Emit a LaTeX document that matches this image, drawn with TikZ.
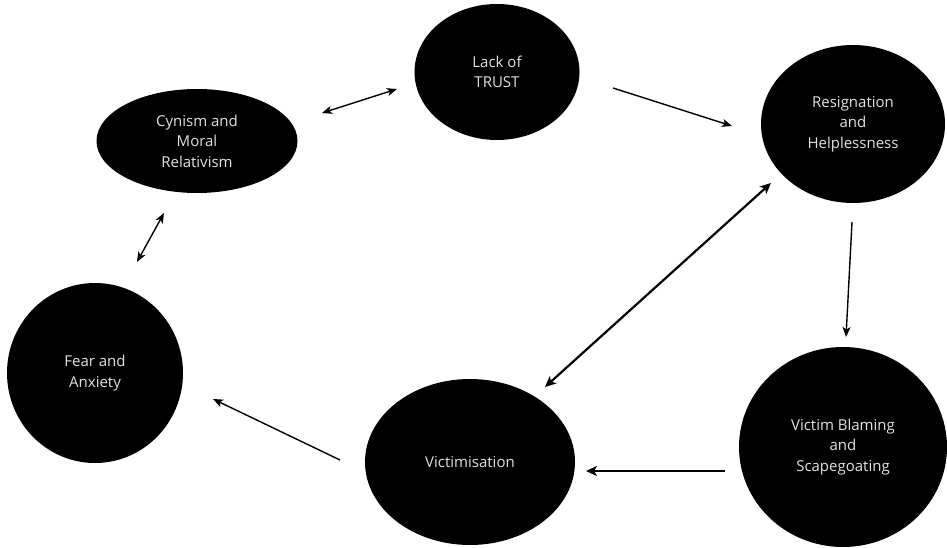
\documentclass[tikz,border=0pt]{standalone}
\usepackage{fontspec}
\setmainfont{Open Sans}
\usetikzlibrary{shapes.geometric,arrows.meta}
\definecolor{txt}{HTML}{E2E2E2}
\begin{document}
\begin{tikzpicture}[x=1pt,y=-1pt,
  blob/.style={ellipse,fill=black,draw=none,inner sep=0pt,text=txt,align=center,
    font=\fontsize{15}{20.5}\selectfont},
  thinarrow/.style={line width=1.4pt,-{Stealth[length=10pt,width=8pt,inset=2.5pt]}},
  thinboth/.style={line width=1.4pt,{Stealth[length=10pt,width=8pt,inset=2.5pt]}-{Stealth[length=10pt,width=8pt,inset=2.5pt]}},
  thickarrow/.style={line width=2.6pt,-{Stealth[length=11pt,width=10pt,inset=3pt]}},
  thickboth/.style={line width=2.2pt,{Stealth[length=11pt,width=10pt,inset=3pt]}-{Stealth[length=11pt,width=10pt,inset=3pt]}}]
\useasboundingbox (0,0) rectangle (947,548);
\node[blob,minimum width=165pt,minimum height=136pt] (trust) at (497,72) {Lack of\\TRUST};
\node[blob,minimum width=201pt,minimum height=104pt] (cyn) at (197,141) {Cynism and\\Moral\\Relativism};
\node[blob,minimum width=184pt,minimum height=158pt] (resig) at (853,124) {Resignation\\and\\Helplessness};
\node[blob,minimum width=176pt,minimum height=180pt] (fear) at (95,373) {Fear and\\Anxiety};
\node[blob,minimum width=210pt,minimum height=166pt] (vict) at (470,462) {Victimisation};
\node[blob,minimum width=208pt,minimum height=200pt] (blame) at (843,447) {Victim Blaming\\and\\Scapegoating};
% connector end points
\coordinate (t1) at (613,88);   \coordinate (r1) at (732,126);
\coordinate (r2) at (852,222);  \coordinate (b1) at (846,337);
\coordinate (b2) at (725,471);  \coordinate (v1) at (586,471);
\coordinate (v2) at (340,460);  \coordinate (f1) at (213,399);
\coordinate (v3) at (545,387);  \coordinate (r3) at (771,183);
\coordinate (f2) at (137,262);  \coordinate (c1) at (164,213);
\coordinate (c2) at (322,113);  \coordinate (t2) at (397,89);
\draw[thinarrow] (t1) -- (r1);
\draw[thinarrow] (r2) -- (b1);
\draw[thickarrow] (b2) -- (v1);
\draw[thinarrow] (v2) -- (f1);
\draw[thickboth] (v3) -- (r3);
\draw[thinboth] (f2) -- (c1);
\draw[thinboth] (c2) -- (t2);
\end{tikzpicture}
\end{document}
